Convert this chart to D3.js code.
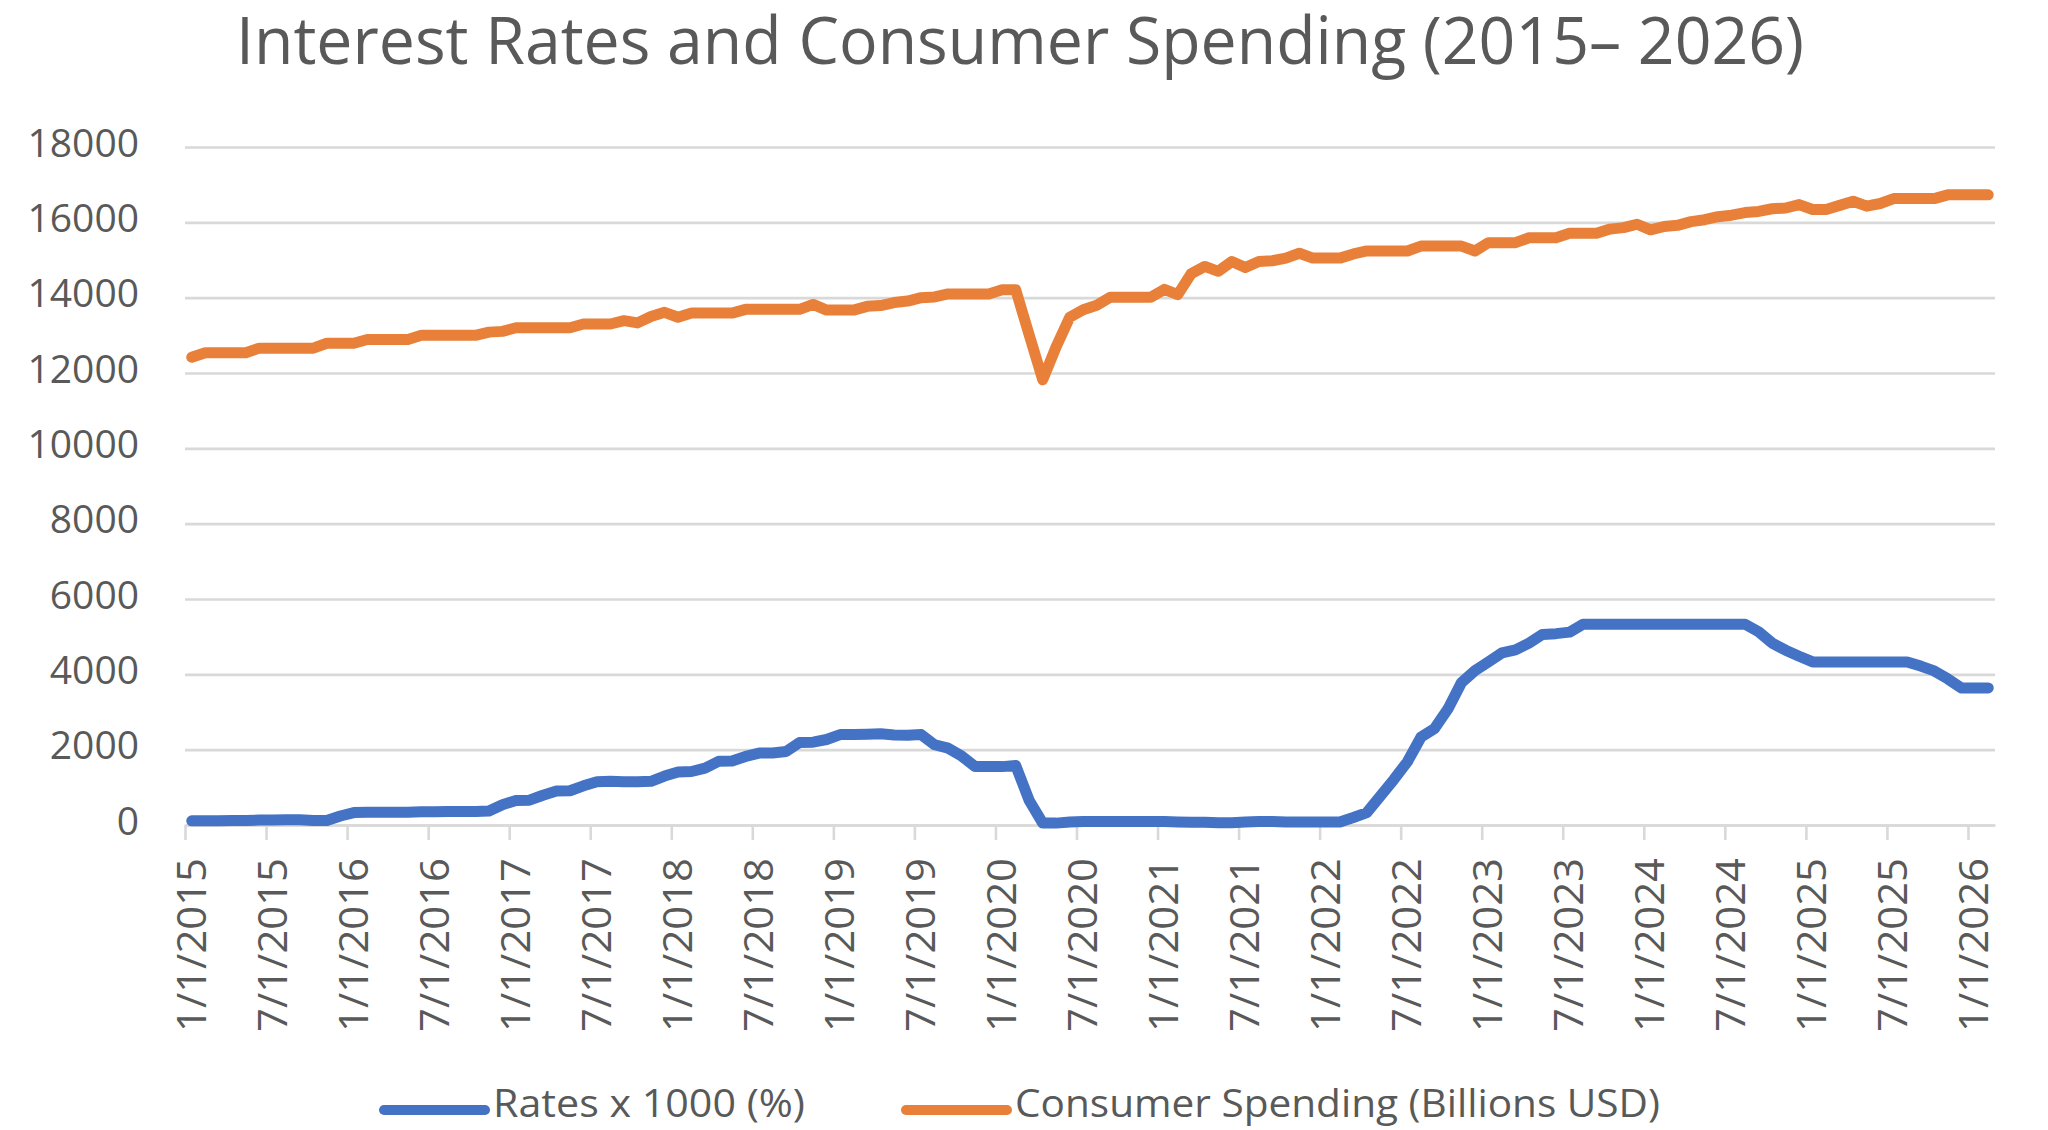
<!DOCTYPE html>
<html>
<head>
<meta charset="utf-8">
<script src="https://cdn.jsdelivr.net/npm/d3@7"></script>
<style>
  html, body { margin: 0; padding: 0; background: #fff; }
  svg { display: block; font-family: "Open Sans", "DejaVu Sans", sans-serif; }
</style>
</head>
<body>
<svg id="chart"></svg>
<script>
// x tick labels, one every 6 months
const tickLabels = [
  "1/1/2015", "7/1/2015", "1/1/2016", "7/1/2016", "1/1/2017", "7/1/2017",
  "1/1/2018", "7/1/2018", "1/1/2019", "7/1/2019", "1/1/2020", "7/1/2020",
  "1/1/2021", "7/1/2021", "1/1/2022", "7/1/2022", "1/1/2023", "7/1/2023",
  "1/1/2024", "7/1/2024", "1/1/2025", "7/1/2025", "1/1/2026"
];

// monthly, Jan 2015 .. Feb 2026
const rates = [
  110, 110, 110, 120, 120, 130, 130, 140, 140, 120, 120, 240,
  330, 340, 340, 340, 340, 350, 350, 360, 360, 360, 370, 540,
  650, 660, 790, 900, 910, 1040, 1150, 1160, 1150, 1150, 1160, 1300,
  1410, 1420, 1510, 1690, 1700, 1820, 1910, 1910, 1950, 2190, 2200, 2270,
  2400, 2400, 2410, 2420, 2390, 2380, 2400, 2130, 2040, 1830, 1550, 1550,
  1550, 1580, 650, 50, 50, 80, 90, 90, 90, 90, 90, 90,
  90, 80, 70, 70, 60, 60, 80, 90, 90, 80, 80, 80,
  80, 80, 200, 330, 770, 1210, 1680, 2330, 2560, 3080, 3780, 4100,
  4330, 4570, 4650, 4830, 5060, 5080, 5120, 5330, 5330, 5330, 5330, 5330,
  5330, 5330, 5330, 5330, 5330, 5330, 5330, 5330, 5130, 4830, 4640, 4480,
  4330, 4330, 4330, 4330, 4330, 4330, 4330, 4330, 4220, 4090, 3880, 3640,
  3640, 3640
];

const spending = [
  12420, 12540, 12540, 12540, 12540, 12660, 12660, 12660, 12660, 12660, 12790, 12790,
  12790, 12890, 12890, 12890, 12890, 13000, 13000, 13000, 13000, 13000, 13085, 13105,
  13200, 13200, 13200, 13200, 13200, 13300, 13300, 13300, 13390, 13330, 13500, 13610,
  13480, 13590, 13590, 13590, 13590, 13690, 13690, 13690, 13690, 13690, 13820, 13670,
  13670, 13670, 13770, 13790, 13870, 13910, 14000, 14020, 14100, 14100, 14100, 14100,
  14210, 14210, 13010, 11820, 12700, 13480, 13680, 13800, 14010, 14010, 14010, 14010,
  14220, 14080, 14640, 14830, 14700, 14960, 14800, 14960, 14980, 15050, 15180, 15050,
  15050, 15050, 15160, 15240, 15240, 15240, 15240, 15370, 15370, 15370, 15370, 15240,
  15460, 15460, 15460, 15590, 15590, 15590, 15710, 15710, 15710, 15820, 15860, 15950,
  15800, 15890, 15920, 16020, 16070, 16150, 16190, 16260, 16290, 16360, 16380, 16470,
  16340, 16340, 16450, 16560, 16430, 16500, 16630, 16630, 16630, 16630, 16730, 16730,
  16730, 16730
];

const seriesNames = ["Rates x 1000 (%)", "Consumer Spending (Billions USD)"];
const seriesColors = ["#4472C4", "#E8803A"];
const yTicks = [0, 2000, 4000, 6000, 8000, 10000, 12000, 14000, 16000, 18000];

const width = 2048;
const height = 1130;
const plotLeft = 185, plotRight = 1995, plotTop = 147, plotBottom = 825;
const textColor = "#595959";
const gridColor = "#d9d9d9";

const svg = d3.select("#chart")
  .attr("width", width)
  .attr("height", height);

svg.append("rect").attr("width", width).attr("height", height).attr("fill", "#fff");

// month index scale; every point sits in the middle of its month
const x = d3.scaleLinear().domain([0, rates.length]).range([plotLeft, plotRight]);
const y = d3.scaleLinear().domain([0, 18000]).range([plotBottom, plotTop]);

// title
svg.append("text")
  .text("Interest Rates and Consumer Spending (2015\u2013 2026)")
  .attr("x", 236)
  .attr("y", 64)
  .attr("font-size", 66)
  .attr("fill", textColor)
  .attr("textLength", 1568)
  .attr("lengthAdjust", "spacingAndGlyphs");

// gridlines + y labels
const yAxis = d3.axisLeft(y)
  .tickValues(yTicks)
  .tickFormat(d3.format("d"))
  .tickSize(-(plotRight - plotLeft))
  .tickPadding(46);

const gy = svg.append("g")
  .attr("transform", "translate(" + plotLeft + ",0)")
  .call(yAxis);
gy.select(".domain").remove();
gy.selectAll("line").attr("stroke", gridColor).attr("stroke-width", 2.6);
gy.selectAll("text")
  .attr("font-size", 39)
  .attr("font-family", "Open Sans")
  .attr("fill", textColor)
  .attr("dy", 9);

// x axis
const xAxis = d3.axisBottom(x)
  .tickValues(d3.range(0, rates.length, 6))
  .tickFormat((d, i) => tickLabels[i])
  .tickSize(15)
  .tickSizeOuter(0);

const gx = svg.append("g")
  .attr("transform", "translate(0," + plotBottom + ")")
  .call(xAxis);
gx.select(".domain").attr("stroke", gridColor).attr("stroke-width", 2.6);
gx.selectAll("line").attr("stroke", gridColor).attr("stroke-width", 2.6);
gx.selectAll("text")
  .attr("font-size", 40)
  .attr("font-family", "Open Sans")
  .attr("fill", textColor)
  .attr("transform", "rotate(-90)")
  .attr("text-anchor", "end")
  .attr("dy", null)
  .attr("x", -33)
  .attr("y", 20)
  .attr("textLength", 174)
  .attr("lengthAdjust", "spacingAndGlyphs");

// lines
const line = d3.line()
  .x((d, i) => x(i + 0.5))
  .y(d => y(d));

[rates, spending].forEach((s, k) => {
  svg.append("path")
    .datum(s)
    .attr("fill", "none")
    .attr("stroke", seriesColors[k])
    .attr("stroke-width", 11)
    .attr("stroke-linejoin", "round")
    .attr("stroke-linecap", "round")
    .attr("d", line);
});

// legend
const legendX = [379, 901];
const legendLen = [312, 645];
const legend = svg.append("g");
seriesNames.forEach((name, k) => {
  legend.append("line")
    .attr("x1", legendX[k] + 5)
    .attr("x2", legendX[k] + 106)
    .attr("y1", 1110)
    .attr("y2", 1110)
    .attr("stroke", seriesColors[k])
    .attr("stroke-width", 10)
    .attr("stroke-linecap", "round");
  legend.append("text")
    .text(name)
    .attr("x", legendX[k] + 114)
    .attr("y", 1117)
    .attr("font-size", 39)
    .attr("fill", textColor)
    .attr("textLength", legendLen[k])
    .attr("lengthAdjust", "spacingAndGlyphs");
});
</script>
</body>
</html>
